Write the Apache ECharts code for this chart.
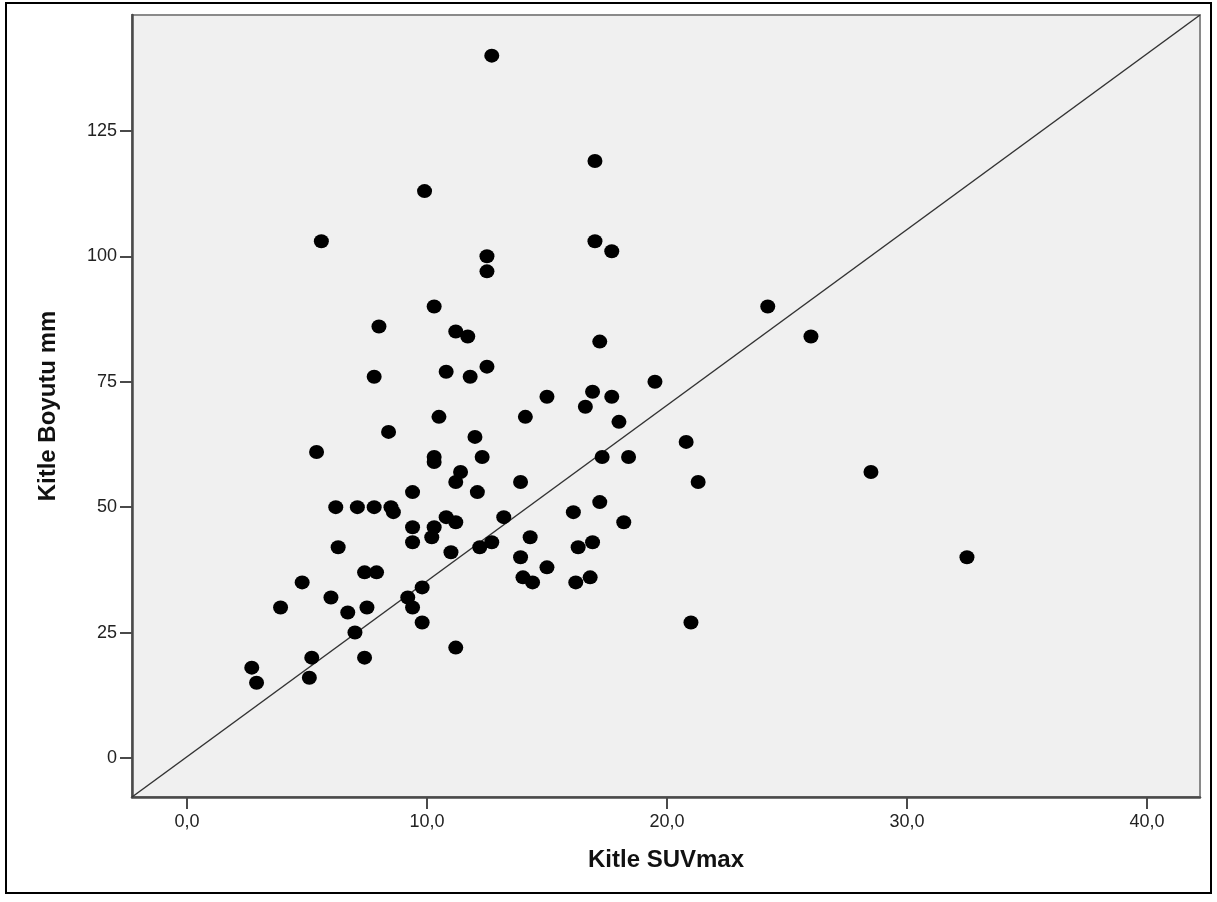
<!DOCTYPE html>
<html>
<head>
<meta charset="utf-8">
<script src="https://cdn.jsdelivr.net/npm/echarts@6/dist/echarts.min.js"></script>
<style>
html,body{margin:0;padding:0;background:#fff;}
#chart{width:1217px;height:902px;}
</style>
</head>
<body>
<div id="chart"></div>
<script>
// Kitle SUVmax (x) values
const suvmax = [12.7, 9.9, 17.0, 5.6, 17.0, 17.7, 12.5, 12.5, 24.2, 10.3, 26.0, 8.0, 11.2, 11.7, 17.2,
  12.5, 10.8, 7.8, 11.8, 19.5, 16.9, 17.7, 15.0, 16.6, 18.0, 14.1, 10.5, 8.4, 12.0, 20.8,
  5.4, 10.3, 10.3, 12.3, 17.3, 18.4, 28.5, 11.4, 11.2, 21.3, 13.9, 9.4, 12.1, 17.2, 6.2,
  7.1, 7.8, 8.5, 8.6, 16.1, 10.8, 11.2, 13.2, 18.2, 9.4, 10.3, 10.2, 9.4, 14.3, 12.7,
  12.2, 16.9, 16.3, 6.3, 11.0, 13.9, 32.5, 15.0, 7.4, 7.9, 14.0, 14.4, 16.2, 16.8, 4.8,
  9.8, 6.0, 9.2, 3.9, 7.5, 9.4, 6.7, 9.8, 21.0, 7.0, 11.2, 5.2, 7.4, 2.7, 2.9, 5.1];
// Kitle Boyutu mm (y) values
const boyut = [140, 113, 119, 103, 103, 101, 100, 97, 90, 90, 84, 86, 85, 84, 83,
  78, 77, 76, 76, 75, 73, 72, 72, 70, 67, 68, 68, 65, 64, 63,
  61, 60, 59, 60, 60, 60, 57, 57, 55, 55, 55, 53, 53, 51, 50,
  50, 50, 50, 49, 49, 48, 47, 48, 47, 46, 46, 44, 43, 44, 43,
  42, 43, 42, 42, 41, 40, 40, 38, 37, 37, 36, 35, 35, 36, 35,
  34, 32, 32, 30, 30, 30, 29, 27, 27, 25, 22, 20, 20, 18, 15, 16];
// Axis ranges and tick labels
const xRange = [-2.29, 42.21];
const yRange = [-7.78, 148.1];
const xTicks = [0, 10, 20, 30, 40];
const yTicks = [0, 25, 50, 75, 100, 125];
const xTitle = 'Kitle SUVmax';
const yTitle = 'Kitle Boyutu mm';

const points = suvmax.map((x, i) => [x, boyut[i]]);

const chart = echarts.init(document.getElementById('chart'), null, {renderer: 'canvas'});
const axisColor = '#4a4a4a';
chart.setOption({
  animation: false,
  backgroundColor: '#ffffff',
  graphic: [{
    type: 'rect',
    shape: {x: 6, y: 3, width: 1205, height: 890},
    style: {fill: 'none', stroke: '#000', lineWidth: 2},
    z: 0
  }],
  grid: {
    left: 132, top: 15, right: 17, bottom: 105,
    show: true,
    backgroundColor: '#f0f0f0',
    borderColor: '#8a8a8a',
    borderWidth: 2
  },
  xAxis: {
    type: 'value',
    min: xRange[0], max: xRange[1],
    name: xTitle,
    nameLocation: 'middle',
    nameGap: 51,
    nameTextStyle: {fontFamily: 'Liberation Sans', fontWeight: 'bold', fontSize: 24, color: '#111'},
    splitLine: {show: false},
    axisLine: {show: true, onZero: false, lineStyle: {color: axisColor, width: 2.5}},
    axisTick: {show: true, length: 12, lineStyle: {color: axisColor, width: 2}, customValues: xTicks},
    axisLabel: {
      customValues: xTicks,
      margin: 16,
      fontFamily: 'Liberation Sans', fontSize: 18, color: '#222',
      formatter: v => v.toFixed(1).replace('.', ',')
    }
  },
  yAxis: {
    type: 'value',
    min: yRange[0], max: yRange[1],
    name: yTitle,
    nameLocation: 'middle',
    nameGap: 72,
    nameTextStyle: {fontFamily: 'Liberation Sans', fontWeight: 'bold', fontSize: 24, color: '#111'},
    splitLine: {show: false},
    axisLine: {show: true, onZero: false, lineStyle: {color: axisColor, width: 2.5}},
    axisTick: {show: true, length: 12, lineStyle: {color: axisColor, width: 2}, customValues: yTicks},
    axisLabel: {
      customValues: yTicks,
      margin: 15,
      fontFamily: 'Liberation Sans', fontSize: 18, color: '#222'
    }
  },
  series: [{
    type: 'line',
    data: [[xRange[0], yRange[0]], [xRange[1], yRange[1]]],
    showSymbol: false,
    symbol: 'none',
    lineStyle: {color: '#333', width: 1.5},
    z: 2,
    silent: true
  }, {
    type: 'scatter',
    data: points,
    symbol: 'circle',
    symbolSize: [15, 14],
    itemStyle: {color: '#000', opacity: 1},
    z: 3
  }]
});
</script>
</body>
</html>
